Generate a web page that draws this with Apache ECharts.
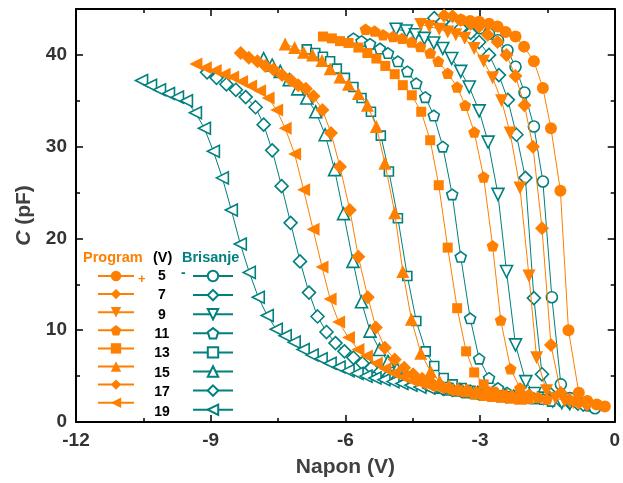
<!DOCTYPE html>
<html>
<head>
<meta charset="utf-8">
<script src="https://cdn.jsdelivr.net/npm/echarts@6/dist/echarts.min.js"></script>
<style>html,body{margin:0;padding:0;background:#fff}#c{width:623px;height:483px}</style>
</head>
<body>
<div id="c"></div>
<script>
// Programming / erase voltages (V)
const voltages = ['5', '7', '9', '11', '13', '15', '17', '19'];
const xTicks = [-12, -9, -6, -3, 0];
const yTicks = [0, 10, 20, 30, 40];

// Program curves (orange) [Napon V, C pF]
const p5 = [[-3.42,43.8],[-3.22,43.7],[-3.02,43.6],[-2.80,43.4],[-2.61,43.1],[-2.43,42.5],[-2.21,42.0],[-2.02,40.9],[-1.80,39.3],[-1.60,36.4],[-1.42,32.0],[-1.21,25.2],[-1.03,10.0],[-0.80,3.2],[-0.61,2.3],[-0.40,1.9],[-0.22,1.7]];
const p7 = [[-3.80,44.3],[-3.61,44.2],[-3.43,43.8],[-3.21,43.4],[-3.02,43.1],[-2.83,42.2],[-2.61,41.4],[-2.41,40.0],[-2.21,37.7],[-2.01,34.5],[-1.82,30.0],[-1.62,21.1],[-1.42,8.4],[-1.20,3.2],[-1.00,2.4],[-0.80,2.1],[-0.62,1.9]];
const p9 = [[-4.32,43.3],[-4.13,43.1],[-3.91,42.8],[-3.72,42.5],[-3.54,42.2],[-3.34,41.8],[-3.13,40.7],[-2.92,39.3],[-2.72,37.5],[-2.52,35.0],[-2.33,31.5],[-2.11,25.5],[-1.91,15.9],[-1.74,7.0],[-1.52,3.4],[-1.32,2.6],[-1.12,2.3],[-0.92,2.1]];
const p11 = [[-5.55,42.8],[-5.35,42.6],[-5.16,42.2],[-4.94,42.0],[-4.74,41.8],[-4.53,41.4],[-4.33,40.9],[-4.11,40.2],[-3.93,39.3],[-3.72,38.0],[-3.51,36.5],[-3.33,34.5],[-3.13,31.6],[-2.92,26.7],[-2.72,19.2],[-2.54,11.1],[-2.32,5.8],[-2.11,3.7],[-1.91,3.0],[-1.71,2.7],[-1.51,2.5]];
const p13 = [[-6.50,42.0],[-6.30,41.8],[-6.12,41.5],[-5.93,41.3],[-5.71,40.8],[-5.51,40.2],[-5.31,39.6],[-5.11,38.8],[-4.90,37.9],[-4.72,36.7],[-4.52,35.6],[-4.31,33.8],[-4.11,30.7],[-3.92,25.8],[-3.72,19.0],[-3.51,12.4],[-3.31,7.7],[-3.13,5.4],[-2.92,4.1],[-2.72,3.3],[-2.52,2.9],[-2.32,2.7],[-2.12,2.6],[-1.92,2.5]];
const p15 = [[-7.34,41.2],[-7.13,40.8],[-6.93,40.3],[-6.73,40.0],[-6.52,39.4],[-6.34,38.5],[-6.12,37.6],[-5.93,36.8],[-5.71,35.8],[-5.51,34.5],[-5.31,32.2],[-5.12,28.2],[-4.90,22.8],[-4.72,16.4],[-4.53,11.2],[-4.32,7.5],[-4.10,5.5],[-3.90,4.4],[-3.70,3.9],[-3.50,3.6],[-3.30,3.4],[-3.10,3.2],[-2.90,3.0],[-2.70,2.9],[-2.50,2.8],[-2.30,2.7],[-2.10,2.6]];
const p17 = [[-8.33,40.2],[-8.15,39.7],[-7.96,39.3],[-7.78,38.8],[-7.60,38.4],[-7.41,37.8],[-7.22,37.3],[-7.05,36.7],[-6.88,36.3],[-6.71,35.5],[-6.51,34.0],[-6.32,31.5],[-6.12,27.8],[-5.90,23.1],[-5.71,18.0],[-5.50,13.6],[-5.32,10.3],[-5.12,8.1],[-4.90,6.8],[-4.69,5.9],[-4.49,5.2],[-4.29,4.7],[-4.09,4.3],[-3.89,4.0],[-3.69,3.7],[-3.49,3.5],[-3.29,3.4],[-3.09,3.2],[-2.89,3.1],[-2.69,3.0],[-2.49,2.9],[-2.29,2.8]];
const p19 = [[-9.33,39.0],[-9.12,38.6],[-8.90,38.3],[-8.70,37.9],[-8.51,37.6],[-8.31,37.1],[-8.11,36.6],[-7.91,36.1],[-7.72,35.3],[-7.53,34.0],[-7.34,32.0],[-7.13,29.2],[-6.93,25.3],[-6.72,21.0],[-6.52,16.9],[-6.34,13.4],[-6.15,10.9],[-5.93,9.2],[-5.72,7.9],[-5.53,7.2],[-5.31,6.4],[-5.12,5.8],[-4.92,5.3],[-4.72,4.9],[-4.52,4.5],[-4.32,4.2],[-4.12,3.9],[-3.92,3.7],[-3.72,3.5],[-3.52,3.4],[-3.32,3.3],[-3.12,3.2],[-2.92,3.1],[-2.72,3.0],[-2.52,2.9]];

// Erase curves (teal) [Napon V, C pF]
const e5 = [[-3.42,43.6],[-3.21,43.3],[-3.00,42.9],[-2.80,42.3],[-2.60,41.6],[-2.39,40.5],[-2.21,38.7],[-2.01,35.9],[-1.80,32.2],[-1.60,26.2],[-1.40,13.6],[-1.20,4.1],[-1.00,2.6],[-0.80,2.1],[-0.60,1.8],[-0.44,1.5]];
const e7 = [[-4.02,44.0],[-3.84,43.6],[-3.61,43.3],[-3.43,42.9],[-3.21,42.4],[-3.02,41.4],[-2.80,40.0],[-2.58,37.8],[-2.38,35.1],[-2.19,31.3],[-1.99,26.6],[-1.80,13.5],[-1.62,5.2],[-1.42,3.0],[-1.22,2.4],[-1.02,2.2],[-0.82,2.0],[-0.70,1.9]];
const e9 = [[-4.87,42.8],[-4.64,42.6],[-4.44,42.2],[-4.24,41.8],[-4.03,41.3],[-3.83,40.7],[-3.63,39.6],[-3.43,38.2],[-3.24,36.5],[-3.02,33.9],[-2.82,30.5],[-2.60,24.8],[-2.41,16.4],[-2.21,8.4],[-1.98,4.4],[-1.78,3.1],[-1.58,2.6],[-1.38,2.3],[-1.18,2.1],[-1.00,2.0]];
const e11 = [[-5.82,41.8],[-5.64,41.5],[-5.45,41.2],[-5.23,40.7],[-5.05,40.2],[-4.83,39.3],[-4.62,38.2],[-4.42,36.9],[-4.22,35.4],[-4.03,33.4],[-3.83,30.0],[-3.62,24.8],[-3.43,18.0],[-3.22,11.3],[-3.02,6.9],[-2.80,4.8],[-2.60,3.7],[-2.40,3.2],[-2.20,2.9],[-2.00,2.7],[-1.80,2.6],[-1.60,2.5],[-1.42,2.3]];
const e13 = [[-6.86,40.6],[-6.67,40.2],[-6.50,39.8],[-6.34,39.3],[-6.19,38.5],[-6.01,37.5],[-5.82,36.5],[-5.64,35.3],[-5.43,33.8],[-5.21,31.2],[-5.03,27.3],[-4.83,22.2],[-4.62,15.9],[-4.42,11.0],[-4.21,7.7],[-4.02,6.1],[-3.81,4.8],[-3.61,4.1],[-3.41,3.7],[-3.21,3.4],[-3.01,3.2],[-2.81,3.0],[-2.61,2.9],[-2.41,2.8],[-2.21,2.7],[-2.01,2.6],[-1.81,2.5]];
const e15 = [[-7.82,39.6],[-7.63,38.9],[-7.45,38.2],[-7.25,37.3],[-7.06,36.3],[-6.86,35.3],[-6.66,33.8],[-6.45,31.3],[-6.24,27.5],[-6.04,22.7],[-5.83,17.5],[-5.64,13.1],[-5.45,9.9],[-5.24,7.9],[-5.05,6.6],[-4.85,5.8],[-4.65,5.2],[-4.45,4.8],[-4.25,4.4],[-4.05,4.1],[-3.85,3.8],[-3.65,3.6],[-3.45,3.5],[-3.25,3.3],[-3.05,3.2],[-2.85,3.1],[-2.65,3.0],[-2.45,2.9],[-2.25,2.8]];
const e17 = [[-9.08,38.1],[-8.87,37.5],[-8.65,36.8],[-8.44,36.2],[-8.22,35.4],[-8.00,34.3],[-7.82,32.4],[-7.63,29.6],[-7.42,25.7],[-7.22,21.7],[-7.01,17.5],[-6.81,14.1],[-6.62,11.5],[-6.42,9.8],[-6.22,8.6],[-6.02,7.7],[-5.82,7.0],[-5.62,6.4],[-5.42,5.9],[-5.22,5.5],[-5.02,5.1],[-4.82,4.8],[-4.62,4.5],[-4.42,4.2],[-4.22,4.0],[-4.02,3.8],[-3.82,3.6],[-3.62,3.5],[-3.42,3.4],[-3.22,3.3],[-3.02,3.1],[-2.82,3.0],[-2.62,2.9],[-2.42,2.8]];
const e19 = [[-10.54,37.2],[-10.34,36.7],[-10.14,36.2],[-9.94,35.8],[-9.74,35.4],[-9.54,35.0],[-9.34,33.7],[-9.14,32.0],[-8.94,29.5],[-8.74,26.6],[-8.54,23.1],[-8.34,19.4],[-8.14,16.3],[-7.94,13.6],[-7.74,11.6],[-7.54,10.1],[-7.34,9.4],[-7.14,8.7],[-6.94,7.9],[-6.74,7.3],[-6.54,6.9],[-6.34,6.4],[-6.14,6.0],[-5.94,5.6],[-5.74,5.3],[-5.54,5.0],[-5.34,4.8],[-5.14,4.6],[-4.94,4.4],[-4.74,4.2],[-4.54,4.0],[-4.34,3.8],[-4.14,3.7],[-3.94,3.6],[-3.74,3.5],[-3.54,3.4],[-3.34,3.3],[-3.14,3.2],[-2.94,3.1]];

const progData = [p5, p7, p9, p11, p13, p15, p17, p19];
const eraseData = [e5, e7, e9, e11, e13, e15, e17, e19];

const ORANGE = '#FF7F00';
const TEAL = '#00807F';
const PENT = 'path://M0,-10 L9.51,-3.09 L5.88,8.09 L-5.88,8.09 L-9.51,-3.09 Z';
const shapes = [
  {s: 'circle', r: 0, sz: 12},
  {s: 'diamond', r: 0, sz: 14},
  {s: 'triangle', r: 180, sz: 13},
  {s: PENT, r: 0, sz: 12},
  {s: 'rect', r: 0, sz: 10},
  {s: 'triangle', r: 0, sz: 13},
  {s: 'diamond', r: 0, sz: 14},
  {s: 'triangle', r: 90, sz: 13}
];

const series = [];
eraseData.forEach((d, i) => {
  const sh = shapes[i];
  series.push({
    name: 'E' + voltages[i], type: 'line', data: d,
    symbol: sh.s, symbolRotate: sh.r, symbolSize: sh.sz - 1, symbolKeepAspect: true,
    showAllSymbol: true,
    lineStyle: {color: TEAL, width: 1},
    itemStyle: {color: '#ffffff', borderColor: TEAL, borderWidth: 1.6},
    emphasis: {disabled: true}, z: 2
  });
});
progData.forEach((d, i) => {
  const sh = shapes[i];
  series.push({
    name: 'P' + voltages[i], type: 'line', data: d,
    symbol: sh.s, symbolRotate: sh.r, symbolSize: sh.sz, symbolKeepAspect: true,
    showAllSymbol: true,
    lineStyle: {color: ORANGE, width: 1},
    itemStyle: {color: ORANGE, borderWidth: 0},
    emphasis: {disabled: true}, z: 3
  });
});

const rowTop = 269.5, rowStep = 19.4, iconH = 13;
const graphics = [
  {type: 'text', left: 83, top: 250, style: {text: 'Program', fill: ORANGE, font: 'bold 14.5px "Liberation Sans", Arial, sans-serif'}},
  {type: 'text', left: 153, top: 250, style: {text: '(V)', fill: '#000', font: 'bold 14.5px "Liberation Sans", Arial, sans-serif'}},
  {type: 'text', left: 182, top: 250, style: {text: 'Brisanje', fill: TEAL, font: 'bold 14.5px "Liberation Sans", Arial, sans-serif'}},
  {type: 'text', left: 138, top: 273, style: {text: '+', fill: ORANGE, font: 'bold 13px "Liberation Sans", Arial, sans-serif'}},
  {type: 'text', left: 181, top: 266, style: {text: '-', fill: TEAL, font: 'bold 14px "Liberation Sans", Arial, sans-serif'}}
];
voltages.forEach((v, i) => {
  graphics.push({type: 'text', x: 162, y: rowTop + iconH / 2 + i * rowStep,
    style: {text: v, fill: '#000', align: 'center', verticalAlign: 'middle', font: 'bold 14px "Liberation Sans", Arial, sans-serif'}});
});

const axisFont = {fontFamily: '"Liberation Sans", Arial, sans-serif', fontWeight: 'bold'};
const lineAx = {show: true, onZero: false, lineStyle: {color: '#000', width: 2}};
const tickAx = {show: true, inside: true, length: 7, lineStyle: {color: '#000', width: 1.5}};
const minorAx = {show: true, splitNumber: 2, length: 4, lineStyle: {color: '#000', width: 1.5}};

const option = {
  animation: false,
  backgroundColor: '#fff',
  grid: {left: 76, right: 5, top: 9, bottom: 60.5, containLabel: false},
  legend: [
    {orient: 'vertical', left: 97, top: rowTop, padding: 0, itemWidth: 36, itemHeight: iconH, itemGap: rowStep - iconH,
     data: voltages.map(v => 'P' + v), formatter: () => '', selectedMode: false,
     textStyle: {fontSize: 1}},
    {orient: 'vertical', left: 192, top: rowTop, padding: 0, itemWidth: 40, itemHeight: iconH, itemGap: rowStep - iconH,
     data: voltages.map(v => 'E' + v), formatter: () => '', selectedMode: false,
     textStyle: {fontSize: 1}}
  ],
  xAxis: [
    {type: 'value', min: -12, max: 0, interval: 3, position: 'bottom',
     axisLine: lineAx, axisTick: tickAx, minorTick: minorAx, splitLine: {show: false},
     axisLabel: Object.assign({color: '#333', fontSize: 19, margin: 9,
       formatter: v => xTicks.includes(v) ? String(v) : ''}, axisFont),
     name: 'Napon (V)', nameLocation: 'middle', nameGap: 35,
     nameTextStyle: Object.assign({color: '#404040', fontSize: 21}, axisFont)},
    {type: 'value', min: -12, max: 0, interval: 3, position: 'top',
     axisLine: lineAx, axisTick: tickAx, minorTick: minorAx, splitLine: {show: false},
     axisLabel: {show: false}}
  ],
  yAxis: [
    {type: 'value', min: 0, max: 45, interval: 10, position: 'left',
     axisLine: lineAx, axisTick: tickAx, minorTick: minorAx, splitLine: {show: false},
     axisLabel: Object.assign({color: '#333', fontSize: 19, margin: 9, showMaxLabel: false,
       formatter: v => yTicks.includes(v) ? String(v) : ''}, axisFont),
     name: '{i|C} (pF)', nameLocation: 'middle', nameGap: 40, nameRotate: 90,
     nameTextStyle: Object.assign({color: '#404040', fontSize: 21,
       rich: {i: {fontStyle: 'italic', fontWeight: 'bold', fontSize: 21, color: '#404040', fontFamily: '"Liberation Sans", Arial, sans-serif'}}}, axisFont)},
    {type: 'value', min: 0, max: 45, interval: 10, position: 'right',
     axisLine: lineAx, axisTick: tickAx, minorTick: minorAx, splitLine: {show: false},
     axisLabel: {show: false}}
  ],
  graphic: graphics,
  series: series
};

const chart = echarts.init(document.getElementById('c'), null, {renderer: 'canvas'});
chart.setOption(option);
</script>
</body>
</html>
